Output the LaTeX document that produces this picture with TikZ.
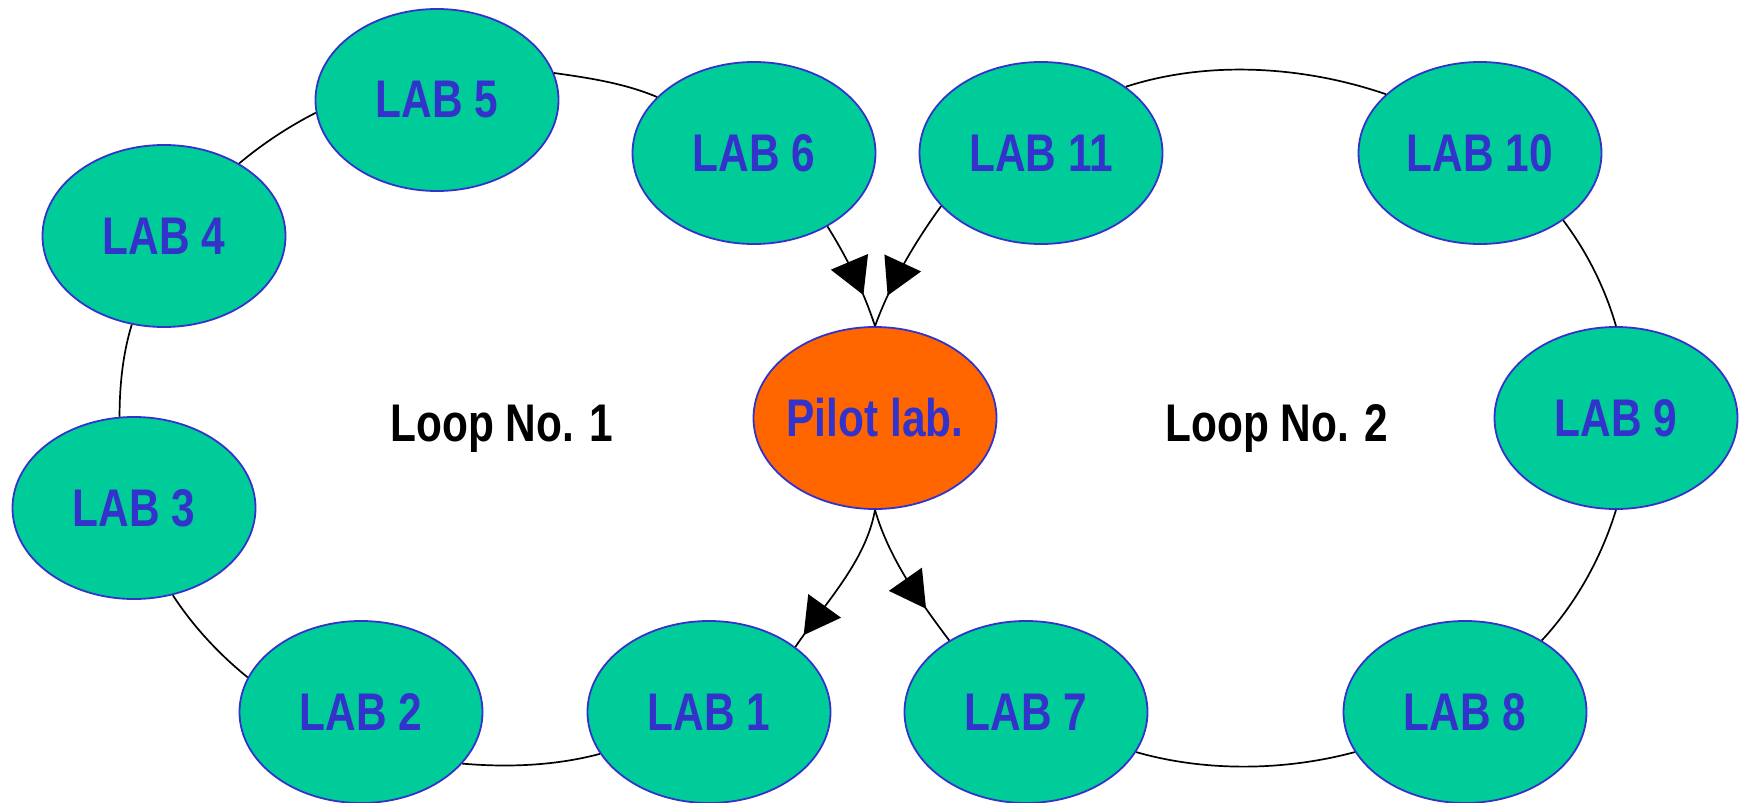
\documentclass[tikz,border=0pt]{standalone}
\usepackage{fontspec}
\newfontfamily\labfont{Liberation Sans}[FakeStretch=0.8]
\usetikzlibrary{shapes.geometric,arrows.meta,decorations.markings}
\definecolor{labgreen}{HTML}{00CC99}
\definecolor{labblue}{HTML}{3333CC}
\definecolor{pilotorange}{HTML}{FF6600}
\newcommand\zw[1]{\makebox[0pt][c]{#1}}
\tikzset{
 lab/.style={ellipse, draw=labblue, line width=1.8pt, fill=labgreen,
   minimum width=243pt, minimum height=182pt, inner sep=0pt, text=labblue,
   font=\labfont\bfseries\fontsize{53}{60}\selectfont},
 pilotnode/.style={lab, fill=pilotorange},
 looplabel/.style={font=\labfont\bfseries\fontsize{53}{60}\selectfont,
   text=black, text depth=0pt, inner sep=0pt},
 link/.style={line width=1.7pt, looseness=0.85},
 arrowat/.style={postaction={decorate}, decoration={markings,
   mark=at position #1 with {\arrow{Triangle[length=36pt,width=40pt]}}}},
}
\begin{document}
\begin{tikzpicture}[x=1pt,y=-1pt]
\useasboundingbox (0,0) rectangle (1746,803);
\node[lab] (lab5) at (437,100) {\zw{LAB 5}};
\node[lab] (lab6) at (754,153) {\zw{LAB 6}};
\node[lab] (lab11) at (1041,153) {\zw{LAB 11}};
\node[lab] (lab10) at (1480,153) {\zw{LAB 10}};
\node[lab] (lab4) at (164,236) {\zw{LAB 4}};
\node[pilotnode] (pilot) at (875,418) {\zw{Pilot lab.}};
\node[lab] (lab9) at (1616,418) {\zw{LAB 9}};
\node[lab] (lab3) at (134,508) {\zw{LAB 3}};
\node[lab] (lab2) at (361,712) {\zw{LAB 2}};
\node[lab] (lab1) at (709,712) {\zw{LAB 1}};
\node[lab] (lab7) at (1026,712) {\zw{LAB 7}};
\node[lab] (lab8) at (1465,712) {\zw{LAB 8}};
\node[looplabel] (loop1) at (502,423) {Loop No. 1};
\node[looplabel] (loop2) at (1277,423) {Loop No. 2};

\draw[link, arrowat=0.91] (pilot.south) to[out=260, in=56] (lab1.37);
\draw[link] (lab1.201) to[out=195, in=-5] (lab2.333);
\draw[link] (lab2.163) to[out=141, in=303] (lab3.294);
\draw[link] (lab3.99) to[out=90, in=253] (lab4.250);
\draw[link] (lab4.44) to[out=40, in=207] (lab5.186);
\draw[link] (lab5.13) to[out=-8, in=157] (lab6.150);
\draw[link, arrowat=0.70] (lab6.315) to[out=302, in=108] (pilot.north);
\draw[link, arrowat=0.74] (pilot.south) to[out=286, in=127] (lab7.137);
\draw[link] (lab7.340) to[out=-16, in=195] (lab8.200);
\draw[link] (lab8.43) to[out=47, in=253] (lab9.south);
\draw[link] (lab9.north) to[out=106, in=307] (lab10.321);
\draw[link] (lab10.148) to[out=161, in=18] (lab11.38);
\draw[link, arrowat=0.76] (lab11.208) to[out=234, in=70] (pilot.north);
\end{tikzpicture}
\end{document}
